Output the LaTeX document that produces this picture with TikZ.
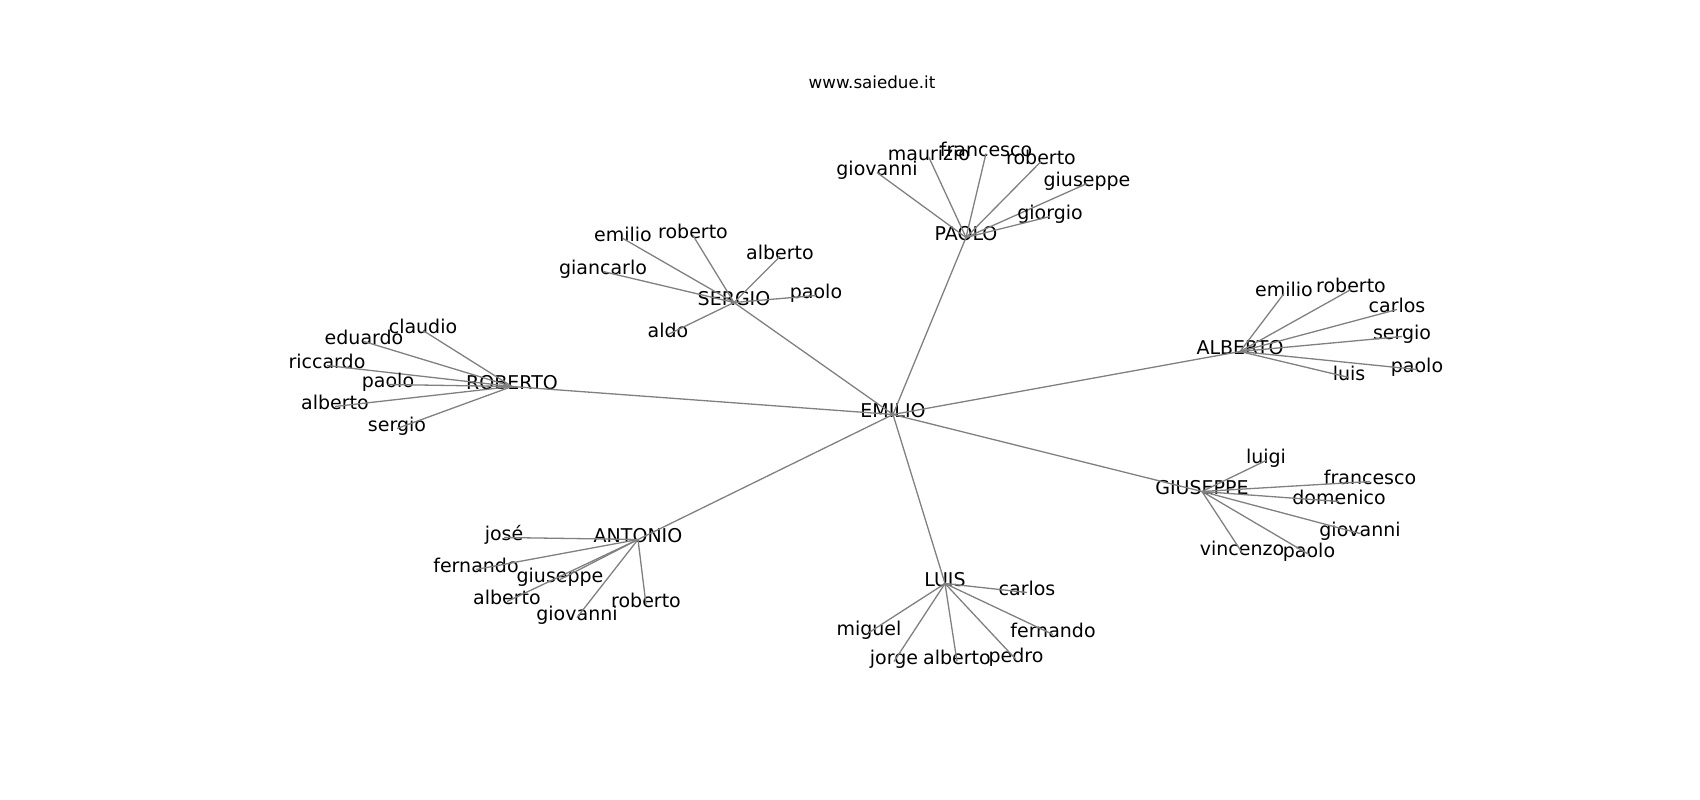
\documentclass[tikz,border=0pt]{standalone}
\usepackage{fontspec}
\setmainfont{DejaVu Sans}
\tikzset{lbl/.style = {inner sep = 0, text height = 0.74em, text depth = 0.22em, font = \fontsize{19}{22}\selectfont}}
\tikzset{edge/.style = {draw = black!50, line width = 1.3pt}}

\begin{document}
\begin{tikzpicture}[x = 1pt, y = -1pt]
	\useasboundingbox (0,0) rectangle (1700,800);
	\node [inner sep = 0, font = \fontsize{16.7}{20}\selectfont] (title) at (872,82) {www.saiedue.it};
	\begin{scope}[shift = {(0,4.5)}]
	\node [lbl] (emilio) at (893,410) {EMILIO};
	\node [lbl] (paolo) at (966,233) {PAOLO};
	\node [lbl] (sergio) at (734,298) {SERGIO};
	\node [lbl] (roberto) at (512,382) {ROBERTO};
	\node [lbl] (alberto) at (1240,347) {ALBERTO};
	\node [lbl] (giuseppe) at (1202,487) {GIUSEPPE};
	\node [lbl] (luis) at (945,579) {LUIS};
	\node [lbl] (antonio) at (638,535) {ANTONIO};
	\foreach \h in {paolo,sergio,roberto,alberto,giuseppe,luis,antonio}
		\draw [edge] (emilio.center) -- (\h.center);
	\foreach \n/\x/\y/\t in {pa1/877/168/giovanni, pa2/929/153/maurizio, pa3/986/149/francesco,
		pa4/1041/157/roberto, pa5/1087/179/giuseppe, pa6/1050/212/giorgio}
	{
		\node [lbl] (\n) at (\x,\y) {\t};
		\draw [edge] (paolo.center) -- (\n.center);
	}
	\foreach \n/\x/\y/\t in {se1/623/234/emilio, se2/693/231/roberto, se3/780/252/alberto,
		se4/816/291/paolo, se5/603/267/giancarlo, se6/668/330/aldo}
	{
		\node [lbl] (\n) at (\x,\y) {\t};
		\draw [edge] (sergio.center) -- (\n.center);
	}
	\foreach \n/\x/\y/\t in {ro1/423/326/claudio, ro2/364/337/eduardo, ro3/327/361/riccardo,
		ro4/388/380/paolo, ro5/335/402/alberto, ro6/397/424/sergio}
	{
		\node [lbl] (\n) at (\x,\y) {\t};
		\draw [edge] (roberto.center) -- (\n.center);
	}
	\foreach \n/\x/\y/\t in {al1/1284/289/emilio, al2/1351/285/roberto, al3/1397/305/carlos,
		al4/1402/332/sergio, al5/1417/365/paolo, al6/1349/373/luis}
	{
		\node [lbl] (\n) at (\x,\y) {\t};
		\draw [edge] (alberto.center) -- (\n.center);
	}
	\foreach \n/\x/\y/\t in {gi1/1266/456/luigi, gi2/1370/477/francesco, gi3/1339/497/domenico,
		gi4/1360/529/giovanni, gi5/1242/548/vincenzo, gi6/1309/550/paolo}
	{
		\node [lbl] (\n) at (\x,\y) {\t};
		\draw [edge] (giuseppe.center) -- (\n.center);
	}
	\foreach \n/\x/\y/\t in {lu1/1027/588/carlos, lu2/1053/630/fernando, lu3/1016/655/pedro,
		lu4/957/657/alberto, lu5/894/657/jorge, lu6/869/628/miguel}
	{
		\node [lbl] (\n) at (\x,\y) {\t};
		\draw [edge] (luis.center) -- (\n.center);
	}
	\foreach \n/\x/\y/\t in {an1/504/533/josé, an2/476/565/fernando, an3/560/575/giuseppe,
		an4/507/597/alberto, an5/577/613/giovanni, an6/646/600/roberto}
	{
		\node [lbl] (\n) at (\x,\y) {\t};
		\draw [edge] (antonio.center) -- (\n.center);
	}
	\end{scope}
\end{tikzpicture}
\end{document}
